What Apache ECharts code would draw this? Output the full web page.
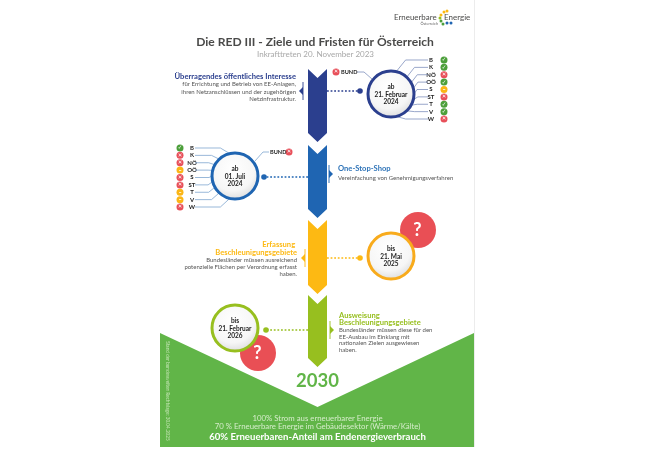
<!DOCTYPE html>
<html>
<head>
<meta charset="utf-8">
<style>
  html, body { margin: 0; padding: 0; background: #fff; }
  #chart { width: 650px; height: 450px; }
</style>
<script src="https://cdn.jsdelivr.net/npm/echarts@6/dist/echarts.min.js"></script>
</head>
<body>
<div id="chart"></div>
<script>
// Inhalte
const stateNames = ['B', 'K', 'NÖ', 'OÖ', 'S', 'ST', 'T', 'V', 'W'];
const statusFeb2024 = ['ok', 'ok', 'no', 'ok', 'wait', 'no', 'ok', 'ok', 'no'];
const statusJul2024 = ['ok', 'no', 'no', 'wait', 'no', 'no', 'wait', 'wait', 'no'];
const bundLabel = 'BUND';
const bundStatus = 'no';
const dateLabels = [
    ['ab', '21. Februar', '2024'],
    ['ab', '01. Juli', '2024'],
    ['bis', '21. Mai', '2025'],
    ['bis', '21. Februar', '2026']
];
const stageTitles = [
    ['Überragendes öffentliches Interesse'],
    ['One-Stop-Shop'],
    ['Erfassung ', 'Beschleunigungsgebiete'],
    ['Ausweisung', 'Beschleunigungsgebiete']
];
const stageBodies = [
    ['für Errichtung und Betrieb von EE-Anlagen,', 'ihren Netzanschlüssen und der zugehörigen', 'Netzinfrastruktur.'],
    ['Vereinfachung von Genehmigungsverfahren'],
    ['Bundesländer müssen ausreichend', 'potenzielle Flächen per Verordnung erfasst', 'haben.'],
    ['Bundesländer müssen diese für den', 'EE-Ausbau im Einklang mit', 'nationalen Zielen ausgewiesen', 'haben.']
];
const mainTitle = 'Die RED III - Ziele und Fristen für Österreich';
const subTitle = 'Inkrafttreten 20. November 2023';
const goalYear = '2030';
const goalLines = ['100% Strom aus erneuerbarer Energie', '70 % Erneuerbare Energie im Gebäudesektor (Wärme/Kälte)'];
const goalHeadline = '60% Erneuerbaren-Anteil am Endenergieverbrauch';
const sideNote = 'Stand der bundesweiten Rechtslage: 30.04.2025';

// Farben und Layout
const FONT = 'Lato, "Open Sans", sans-serif';
const stageColors = ['#2b3f8e', '#1f65b2', '#fdb913', '#97bf1f'];
const ringColors = ['#2b3f8e', '#1f65b2', '#f8ab1c', '#97bf1f'];
const titleColors = ['#2b3f8e', '#2f74b8', '#fdb913', '#97bf1f'];
const statusColors = { ok: '#4c9f3a', no: '#e8505a', wait: '#fbb616' };
const statusGlyphs = { ok: '✓', no: '✕', wait: '–' };
const GREEN = '#61b548';
const CENTER_X = 317.5;
const chevronLayout = [[69, 133], [145, 209], [220, 285], [295, 358]];
const ringLayout = [[391, 94, 23], [235, 176, 23], [391, 256, 23], [235, 328, 23]];
const dotLineLayout = [[327, 360, 91], [308, 264, 177], [327, 360, 258], [308, 266, 330]];
const markerLayout = [[303, 91, -1], [329, 174, 1], [305, 258, -1], [330, 330, 1]];
const questionLayout = [[418, 230], [258, 353]];

// Gemeinsamer Helfer: Textelement fuer die graphic-Komponente
function label(x, y, text, size, color, weight, align, extra) {
    return Object.assign({
        type: 'text', x: x, y: y, z: 100, silent: true,
        style: {
            text: text, fontSize: size, fill: color, fontWeight: weight || 'normal',
            fontFamily: FONT, align: align || 'left', verticalAlign: 'middle'
        }
    }, extra || {});
}

function polygon(api, points, style) {
    return {
        type: 'polygon',
        shape: { points: points.map(p => api.coord(p)) },
        style: style
    };
}

// Hintergrund, Pfeile und Verbindungen
function renderBackground(params, api) {
    return {
        type: 'group',
        children: [
            polygon(api, [[160, 333], [CENTER_X, 407], [474, 333], [474, 447], [160, 447]], { fill: GREEN }),
            {
                type: 'line',
                shape: { x1: api.coord([474.5, 0])[0], y1: 0, x2: api.coord([474.5, 0])[0], y2: 447 },
                style: { stroke: '#ececec', lineWidth: 1 }
            }
        ]
    };
}

function renderChevron(params, api) {
    const i = api.value(0);
    const top = chevronLayout[i][0];
    const bottom = chevronLayout[i][1];
    return polygon(api, [
        [308, top], [CENTER_X, top + 9], [327, top], [327, bottom],
        [CENTER_X, bottom + 9], [308, bottom]
    ], { fill: stageColors[i] });
}

function renderConnector(params, api) {
    const i = api.value(0);
    const d = dotLineLayout[i];
    const m = markerLayout[i];
    const start = api.coord([d[0], d[2]]);
    const end = api.coord([d[1], d[2]]);
    const bar = api.coord([m[0], m[1]]);
    return {
        type: 'group',
        children: [
            {
                type: 'line',
                shape: { x1: start[0], y1: start[1], x2: end[0], y2: end[1] },
                style: { stroke: stageColors[i], lineWidth: 1.7, lineDash: [1.8, 1.8] }
            },
            {
                type: 'circle',
                shape: { cx: end[0], cy: end[1], r: 2.8 },
                style: { fill: stageColors[i] }
            },
            {
                type: 'line',
                shape: { x1: bar[0], y1: bar[1] - 9, x2: bar[0], y2: bar[1] + 9 },
                style: { stroke: stageColors[i], lineWidth: 0.9 }
            },
            {
                type: 'polygon',
                shape: {
                    points: [
                        [bar[0], bar[1] - 4], [bar[0] + m[2] * 4, bar[1]], [bar[0], bar[1] + 4]
                    ]
                },
                style: { fill: stageColors[i] }
            }
        ]
    };
}

function renderQuestion(params, api) {
    const q = questionLayout[api.value(0)];
    const c = api.coord(q);
    return { type: 'circle', shape: { cx: c[0], cy: c[1], r: 18 }, style: { fill: '#e94f55' } };
}

function renderRing(params, api) {
    const i = api.value(0);
    const r = ringLayout[i];
    const c = api.coord([r[0], r[1]]);
    return {
        type: 'circle',
        shape: { cx: c[0], cy: c[1], r: r[2] },
        style: {
            fill: {
                type: 'radial', x: 0.45, y: 0.35, r: 0.75,
                colorStops: [{ offset: 0, color: '#ffffff' }, { offset: 0.6, color: '#f6f6f6' }, { offset: 1, color: '#cfcfcf' }]
            },
            stroke: ringColors[i], lineWidth: 3
        }
    };
}

// Fuehrungslinien vom Bundesland zum Ring
function leaderRenderer(ringIndex, lineX, side, color) {
    return function (params, api) {
        const i = api.value(0);
        const ring = ringLayout[ringIndex];
        const y = api.coord([0, i])[1];
        const center = 4;
        const dy = (i - center) * 5.6;
        const edgeX = ring[0] + side * Math.sqrt(ring[2] * ring[2] - dy * dy);
        const edgeY = ring[1] + dy;
        const elbowX = edgeX + side * (Math.abs(i - center) * 1.6 + 3);
        return {
            type: 'polyline',
            shape: { points: [[lineX, y], [elbowX, y], [edgeX, edgeY]] },
            style: { stroke: color, lineWidth: 0.8, fill: null }
        };
    };
}

function stateAxis(gridIndex, position) {
    return {
        type: 'category', gridIndex: gridIndex, data: stateNames, inverse: true, position: position,
        axisLine: { show: false }, axisTick: { show: false }, splitLine: { show: false },
        axisLabel: {
            show: true, interval: 0, fontSize: 6, fontWeight: 'bold', color: '#222',
            fontFamily: FONT, margin: position === 'left' ? 12 : 11, align: 'center'
        }
    };
}

function statusSeries(statuses, axisIndex) {
    return {
        type: 'scatter', xAxisIndex: axisIndex, yAxisIndex: axisIndex, z: 6,
        symbol: 'circle', symbolSize: 7, silent: true,
        data: statuses.map((s, i) => ({
            value: [0.5, stateNames[i]],
            itemStyle: { color: statusColors[s], opacity: 1 },
            label: { formatter: statusGlyphs[s] }
        })),
        label: { show: true, position: 'inside', color: '#fff', fontSize: 5.5, fontWeight: 'bold', fontFamily: '"DejaVu Sans"' }
    };
}

const stageIndexes = [0, 1, 2, 3];

// Texte
const graphics = [
    label(315, 42, mainTitle, 12.1, '#4a4a49', 'bold', 'center'),
    label(315.5, 54, subTitle, 8, '#a8a8a8', 'normal', 'center'),
    label(394, 17, 'Erneuerbare', 7.9, '#4a4a49', 'normal', 'left'),
    label(444, 17, 'Energie', 8, '#4a4a49', 'normal', 'left'),
    label(438, 24, 'Österreich', 3.8, '#666', 'normal', 'right'),
    label(CENTER_X, 381, goalYear, 18.5, GREEN, 'bold', 'center'),
    label(CENTER_X, 418, goalLines[0], 7.8, '#d5ecca', 'normal', 'center'),
    label(CENTER_X, 426, goalLines[1], 7.8, '#d5ecca', 'normal', 'center'),
    label(CENTER_X, 437, goalHeadline, 9.6, '#ffffff', 'bold', 'center'),
    label(168, 391, sideNote, 4.7, '#c5e6b5', 'normal', 'center', { rotation: -Math.PI / 2 }),
    // BUND-Beschriftung
    label(341, 72, bundLabel, 5.6, '#222', 'bold', 'left'),
    label(270, 152, bundLabel, 5.6, '#222', 'bold', 'left')
];

// Datumstexte in den Ringen
dateLabels.forEach((lines, i) => {
    lines.forEach((line, k) => {
        graphics.push(label(ringLayout[i][0], ringLayout[i][1] + (k - 1) * 7.4 + 0.5, line, 6.5, '#222', 'bold', 'center'));
    });
});

// Stufentexte: Position je Stufe
const stageTextLayout = [
    { x: 296, align: 'right', titleY: [77], bodyY: [84, 92, 99] },
    { x: 338, align: 'left', titleY: [169], bodyY: [178] },
    { x: 297, align: 'right', titleY: [245, 253], bodyY: [260, 267, 274] },
    { x: 339, align: 'left', titleY: [316, 323], bodyY: [330, 337, 343, 350] }
];
stageTextLayout.forEach((t, i) => {
    stageTitles[i].forEach((line, k) => {
        graphics.push(label(t.x, t.titleY[k], line, 7.6, titleColors[i], 'bold', t.align));
    });
    stageBodies[i].forEach((line, k) => {
        graphics.push(label(t.x, t.bodyY[k], line, 6, '#555', 'normal', t.align));
    });
});

// Fragezeichen
questionLayout.forEach(q => {
    graphics.push(label(q[0] - 0.5, q[1] + 0.5, '?', 18, '#fff', 'bold', 'center'));
});

// BUND-Fuehrungslinien
graphics.push({
    type: 'polyline', z: 20, silent: true,
    shape: { points: [[357, 72], [364, 72], [372, 79]] },
    style: { stroke: '#7f90bd', lineWidth: 0.8, fill: null }
});
graphics.push({
    type: 'polyline', z: 20, silent: true,
    shape: { points: [[269, 152], [263, 152], [255, 161]] },
    style: { stroke: '#7fa6cf', lineWidth: 0.8, fill: null }
});

// Logo-Punkte
const logoDots = [
    [447, 11, '#fdb913'], [444, 12, '#fdb913'], [441, 15, '#fdb913'],
    [440, 18, '#97bf1f'], [441, 21, '#4c9f3a'], [443, 24, '#4c9f3a'],
    [447, 23, '#1f65b2'], [451, 23, '#1f65b2']
];
logoDots.forEach(d => {
    graphics.push({
        type: 'circle', z: 100, silent: true,
        shape: { cx: d[0], cy: d[1], r: 1.5 },
        style: { fill: d[2] }
    });
});

const option = {
    animation: false,
    grid: [
        { left: 0, top: 0, width: 650, height: 450 },
        { left: 443, top: 56.3, width: 2, height: 66.4 },
        { left: 179, top: 144.3, width: 2, height: 66.4 }
    ],
    xAxis: [
        { type: 'value', gridIndex: 0, min: 0, max: 650, show: false },
        { type: 'value', gridIndex: 1, min: 0, max: 1, show: false },
        { type: 'value', gridIndex: 2, min: 0, max: 1, show: false }
    ],
    yAxis: [
        { type: 'value', gridIndex: 0, min: 0, max: 450, inverse: true, show: false },
        stateAxis(1, 'left'),
        stateAxis(2, 'right')
    ],
    graphic: { elements: graphics },
    series: [
        { type: 'custom', z: 1, silent: true, renderItem: renderBackground, data: [0], clip: false },
        { type: 'custom', z: 2, silent: true, renderItem: renderChevron, data: stageIndexes, clip: false },
        { type: 'custom', z: 2, silent: true, renderItem: renderConnector, data: stageIndexes, clip: false },
        { type: 'custom', z: 3, silent: true, renderItem: renderQuestion, data: [0, 1], clip: false },
        {
            type: 'custom', xAxisIndex: 1, yAxisIndex: 1, z: 3, silent: true, clip: false,
            renderItem: leaderRenderer(0, 428, 1, '#7f90bd'),
            data: stateNames.map((n, i) => [i])
        },
        {
            type: 'custom', xAxisIndex: 2, yAxisIndex: 2, z: 3, silent: true, clip: false,
            renderItem: leaderRenderer(1, 195, -1, '#7fa6cf'),
            data: stateNames.map((n, i) => [i])
        },
        { type: 'custom', z: 4, silent: true, renderItem: renderRing, data: stageIndexes, clip: false },
        statusSeries(statusFeb2024, 1),
        statusSeries(statusJul2024, 2),
        {
            type: 'scatter', z: 6, symbol: 'circle', symbolSize: 7, silent: true,
            data: [[336, 72], [289, 152]],
            itemStyle: { color: statusColors[bundStatus], opacity: 1 },
            label: {
                show: true, position: 'inside', color: '#fff', fontSize: 5.5, fontWeight: 'bold',
                fontFamily: '"DejaVu Sans"', formatter: statusGlyphs[bundStatus]
            }
        }
    ]
};

const myChart = echarts.init(document.getElementById('chart'), null, { renderer: 'canvas' });
myChart.setOption(option);
</script>
</body>
</html>
